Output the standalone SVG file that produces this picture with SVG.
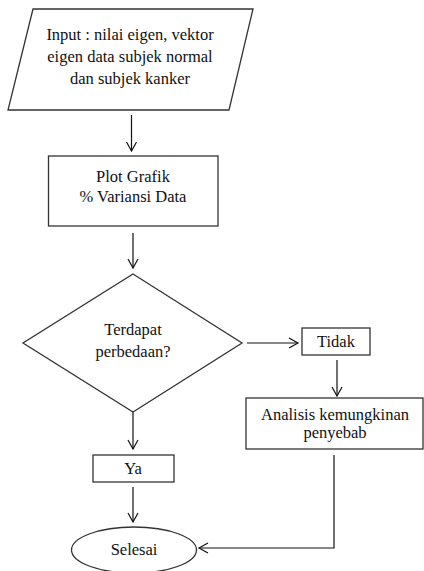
<svg xmlns="http://www.w3.org/2000/svg" width="424" height="571" viewBox="0 0 424 571">
<style>
.s{fill:#fff;stroke:#333;stroke-width:1.3}
text{font-family:'Liberation Serif','Times New Roman',serif;font-size:16.5px;fill:#111;text-anchor:middle}
.c{fill:none;stroke:#111;stroke-width:1.2}
</style>
<defs>
<marker id="a" markerWidth="12" markerHeight="12" refX="10" refY="6" orient="auto" markerUnits="userSpaceOnUse">
<path d="M1,1 L10,6 L1,11" fill="none" stroke="#111" stroke-width="1.2"/>
</marker>
</defs>
<rect width="424" height="571" fill="#fff"/>
<g id="connectors">
<line class="c" x1="131.5" y1="115" x2="131.5" y2="151" marker-end="url(#a)"/>
<line class="c" x1="133" y1="233" x2="133" y2="268" marker-end="url(#a)"/>
<line class="c" x1="247" y1="343" x2="298" y2="343" marker-end="url(#a)"/>
<line class="c" x1="337" y1="360" x2="337" y2="396" marker-end="url(#a)"/>
<line class="c" x1="133" y1="412" x2="133" y2="449" marker-end="url(#a)"/>
<line class="c" x1="133" y1="487" x2="133" y2="522" marker-end="url(#a)"/>
<polyline class="c" points="334,455 334,548 199,548" marker-end="url(#a)"/>
</g>
<g id="input">
<polygon class="s" points="33,9 253,9 229,110 8,110"/>
<text x="130" y="40">Input : nilai eigen, vektor</text>
<text x="130" y="62">eigen data subjek normal</text>
<text x="130" y="84">dan subjek kanker</text>
</g>
<g id="plot">
<rect class="s" x="48.5" y="156" width="169.5" height="70"/>
<text x="133" y="182">Plot Grafik</text>
<text x="133" y="202">% Variansi Data</text>
</g>
<g id="decision">
<polygon class="s" points="133,274 242,343 133,412 23,343"/>
<text x="133" y="335">Terdapat</text>
<text x="133" y="357">perbedaan?</text>
</g>
<g id="tidak">
<rect class="s" x="302" y="328" width="68" height="27"/>
<text x="336" y="347">Tidak</text>
</g>
<g id="analisis">
<rect class="s" x="246" y="398" width="177" height="51"/>
<text x="335" y="420">Analisis kemungkinan</text>
<text x="335" y="438">penyebab</text>
</g>
<g id="ya">
<rect class="s" x="93" y="455" width="81" height="27"/>
<text x="133" y="474">Ya</text>
</g>
<g id="selesai">
<ellipse class="s" cx="134" cy="550" rx="62.5" ry="23"/>
<text x="134" y="555">Selesai</text>
</g>
</svg>
